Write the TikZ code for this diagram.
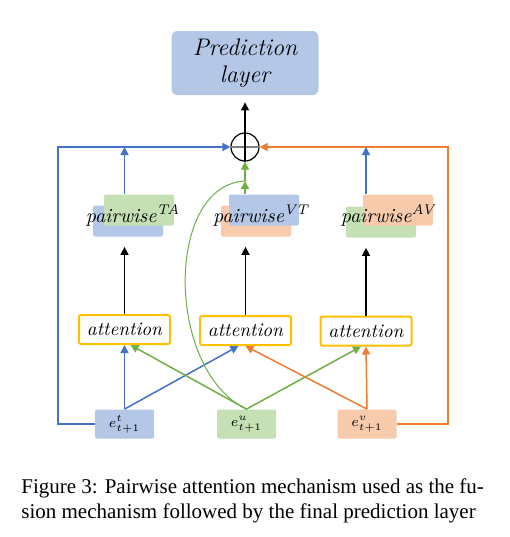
\documentclass[tikz,border=0pt]{standalone}
\usepackage{fontspec}
\newfontfamily\legende{Liberation Serif}
\usetikzlibrary{arrows.meta}
\definecolor{bleuclair}{HTML}{B4C7E7}
\definecolor{bleu}{HTML}{4472C4}
\definecolor{vertclair}{HTML}{C5E0B4}
\definecolor{vert}{HTML}{70AD47}
\definecolor{orangeclair}{HTML}{F8CBAD}
\definecolor{orangefonce}{HTML}{ED7D31}
\definecolor{jaune}{HTML}{FFC000}

\begin{document}
\begin{tikzpicture}[x=0.5pt, y=-0.5pt, >={Triangle[length=4pt,width=4pt]},
    fond/.style={rounded corners=1pt, minimum width=35pt, minimum height=15.5pt, inner sep=0pt},
    attn/.style={draw=jaune, line width=1pt, rounded corners=1pt, fill=white, minimum width=45.5pt,
        minimum height=14.5pt, inner sep=0pt, font=\itshape\fontsize{9.6}{11}\selectfont},
    entree/.style={rounded corners=1pt, minimum width=29.5pt, minimum height=14.5pt, inner sep=0pt, font=\scriptsize},
    paire/.style={anchor=base, inner sep=0pt, font=\itshape\fontsize{10}{12}\selectfont},
    fleche/.style={->, line width=0.75pt}]
    \useasboundingbox (0,0) rectangle (510,537);

    % Couche de prediction
    \node[fill=bleuclair, rounded corners=3pt, minimum width=73.5pt, minimum height=32pt, align=center,
        font=\itshape\fontsize{12}{13.5}\selectfont] (pred) at (245,63) {Prediction\\layer};

    % Fusion
    \node[draw, circle, minimum size=14pt, inner sep=0pt, line width=0.6pt] (o) at (245,147) {};
    \draw[gray, line width=1pt] (o.west) -- (o.east);
    \draw[fleche, line width=0.6pt, shorten >=3.5pt] (o.south) -- (pred.south);

    % Paires
    \node[fond, fill=bleuclair] (taBas) at (128,221) {};
    \node[fond, fill=vertclair] (taHaut) at (139,210) {};
    \node[paire] (pTA) at (133,222) {pairwise\textsuperscript{TA}};
    \node[fond, fill=orangeclair] (vtBas) at (256,221) {};
    \node[fond, fill=bleuclair] (vtHaut) at (264,210) {};
    \node[paire] (pVT) at (261,222) {pairwise\textsuperscript{VT}};
    \node[fond, fill=vertclair] (avBas) at (381,222) {};
    \node[fond, fill=orangeclair] (avHaut) at (398,210) {};
    \node[paire] (pAV) at (388,222) {pairwise\textsuperscript{AV}};

    % Attention
    \node[attn] (attA) at (124.5,329.5) {attention};
    \node[attn] (attB) at (245.5,330.5) {attention};
    \node[attn] (attC) at (366,331) {attention};

    % Entrees
    \node[entree, fill=bleuclair] (et) at (124.5,424) {$e^{t}_{t+1}$};
    \node[entree, fill=vertclair] (eu) at (246.5,424) {$e^{u}_{t+1}$};
    \node[entree, fill=orangeclair] (ev) at (367,424) {$e^{v}_{t+1}$};

    % Attention vers paires
    \draw[fleche, shorten >=5pt] (attA.north) -- (attA.north |- taBas.south);
    \draw[fleche, shorten >=5pt] (attB.north) -- (attB.north |- vtBas.south);
    \draw[fleche, shorten >=5pt] (attC.north) -- (attC.north |- avBas.south);

    % Entrees vers attention
    \draw[fleche, bleu] (et.north) -- (attA.south);
    \draw[fleche, bleu] (et.north) -- ([xshift=-3.5pt]attB.south);
    \draw[fleche, vert] (eu.north) -- ([xshift=3pt]attA.south);
    \draw[fleche, vert] (eu.north) -- ([xshift=-2.5pt]attC.south);
    \draw[fleche, orangefonce] (ev.north) -- (attB.south);
    \draw[fleche, orangefonce] (ev.north) -- (attC.south);

    % Paires vers fusion
    \coordinate (hg) at (58,147);
    \coordinate (hd) at (448,147);
    \coordinate (jonction) at (245,181);
    \draw[fleche, bleu] (attA |- taHaut.north) -- (attA |- o);
    \draw[fleche, bleu] (attC |- avHaut.north) -- (attC |- o);
    \draw[fleche, vert] (o |- vtHaut.north) -- (jonction);
    \draw[fleche, vert] (jonction) -- (o.south);
    \draw[vert, line width=0.5pt] (eu.north) .. controls (165,370) and (165,185) .. (jonction);

    % Cadres lateraux
    \draw[fleche, bleu] (et.west) -| (hg) -- (o.west);
    \draw[fleche, orangefonce] (ev.east) -| (hd) -- (o.east);

    % Legende
    \node[anchor=base west, inner sep=0pt, font=\legende\fontsize{10.5}{12}\selectfont] (leg1) at (21,493)
        {Figure 3: Pairwise attention mechanism used as the fu-};
    \node[anchor=base west, inner sep=0pt, font=\legende\fontsize{10.5}{12}\selectfont] (leg2) at (21,518)
        {sion mechanism followed by the final prediction layer};
\end{tikzpicture}
\end{document}
